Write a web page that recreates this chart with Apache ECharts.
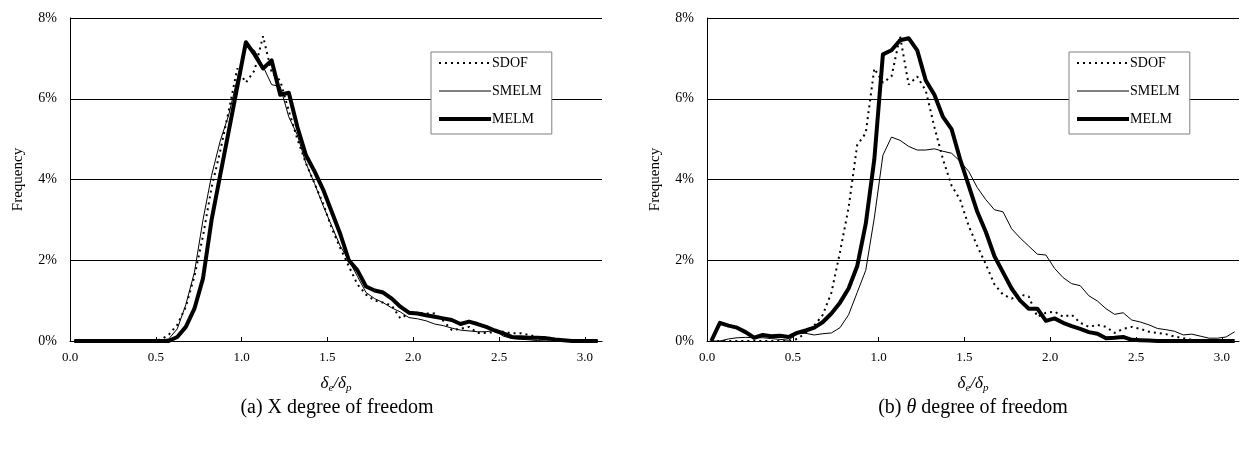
<!DOCTYPE html>
<html>
<head>
<meta charset="utf-8">
<script src="https://cdn.jsdelivr.net/npm/echarts@6/dist/echarts.min.js"></script>
<style>
html,body{margin:0;padding:0;background:#fff;}
#c{width:1242px;height:453px;}
</style>
</head>
<body>
<div id="c"></div>
<script>
// bin centres of delta_e / delta_p
const xBins = [0.025,0.075,0.125,0.175,0.225,0.275,0.325,0.375,0.425,0.475,
  0.525,0.575,0.625,0.675,0.725,0.775,0.825,0.875,0.925,0.975,
  1.025,1.075,1.125,1.175,1.225,1.275,1.325,1.375,1.425,1.475,
  1.525,1.575,1.625,1.675,1.725,1.775,1.825,1.875,1.925,1.975,
  2.025,2.075,2.125,2.175,2.225,2.275,2.325,2.375,2.425,2.475,
  2.525,2.575,2.625,2.675,2.725,2.775,2.825,2.875,2.925,2.975,
  3.025,3.075];

const xTickValues = [0, 0.5, 1.0, 1.5, 2.0, 2.5, 3.0];
const seriesNames = ['SDOF', 'SMELM', 'MELM'];

// (a) X degree of freedom  (frequency in %)
const aSdof = [0,0,0,0,0,0,0,0,0,0,
  0.03,0.15,0.4,0.85,1.6,2.6,3.8,4.7,5.7,6.75,
  6.4,6.7,7.55,6.65,6.45,5.7,5.0,4.4,3.9,3.4,
  2.8,2.3,1.85,1.4,1.15,1.0,0.95,0.88,0.56,0.68,
  0.7,0.68,0.68,0.5,0.27,0.3,0.35,0.2,0.2,0.22,
  0.23,0.19,0.19,0.15,0.1,0.1,0.05,0.02,0,0,
  0,0];
const aSmelm = [0,0,0,0,0,0,0,0,0,0,
  0.02,0.05,0.3,0.9,1.7,3.0,4.1,4.95,5.6,6.5,
  7.3,7.2,6.8,6.35,6.3,5.55,5.1,4.4,3.9,3.35,
  2.85,2.35,2.0,1.6,1.2,1.05,0.95,0.82,0.72,0.58,
  0.55,0.5,0.42,0.38,0.32,0.27,0.25,0.23,0.23,0.26,
  0.12,0.06,0.04,0.03,0.01,0,0,0,0,0,
  0,0];
const aMelm = [0,0,0,0,0,0,0,0,0,0,
  0,0,0.1,0.35,0.8,1.55,3.0,4.1,5.2,6.3,
  7.4,7.1,6.75,6.95,6.1,6.15,5.3,4.6,4.2,3.75,
  3.2,2.65,2.0,1.75,1.35,1.25,1.2,1.05,0.85,0.7,
  0.68,0.64,0.6,0.56,0.52,0.42,0.48,0.42,0.35,0.26,
  0.19,0.1,0.09,0.08,0.08,0.07,0.04,0.02,0,0,
  0,0];

// (b) theta degree of freedom
const bSdof = [0,0,0,0,0,0,0,0,0,0,
  0.05,0.2,0.38,0.65,1.2,2.2,3.3,4.85,5.15,6.75,
  6.4,6.55,7.55,6.35,6.55,6.2,5.3,4.5,3.85,3.5,
  2.85,2.35,1.9,1.4,1.15,1.05,1.15,1.1,0.6,0.7,
  0.73,0.6,0.65,0.45,0.35,0.4,0.35,0.2,0.3,0.35,
  0.3,0.23,0.2,0.17,0.11,0.07,0.03,0.02,0,0,
  0,0];
const bSmelm = [0,0,0.05,0.08,0.09,0.08,0.08,0.06,0.04,0.02,
  0.18,0.19,0.15,0.18,0.2,0.33,0.65,1.2,1.75,3.05,
  4.6,5.05,4.97,4.82,4.73,4.73,4.76,4.7,4.65,4.45,
  4.2,3.8,3.5,3.25,3.2,2.78,2.55,2.35,2.15,2.13,
  1.8,1.57,1.42,1.37,1.12,0.99,0.8,0.66,0.7,0.52,
  0.47,0.4,0.31,0.28,0.24,0.15,0.17,0.12,0.07,0.07,
  0.1,0.23];
const bMelm = [0,0.45,0.38,0.33,0.22,0.08,0.15,0.12,0.13,0.1,
  0.2,0.26,0.33,0.47,0.68,0.95,1.3,1.85,2.9,4.5,
  7.1,7.2,7.45,7.5,7.2,6.45,6.1,5.55,5.25,4.5,
  3.85,3.2,2.7,2.1,1.7,1.3,1.0,0.8,0.8,0.5,
  0.56,0.45,0.37,0.3,0.22,0.18,0.07,0.08,0.1,0.03,
  0.02,0.01,0,0,0,0,0,0,0,0,
  0,0];

const captions = ['{n|(a) X degree of freedom}', '{n|(b) }{i|θ}{n| degree of freedom}'];
const xName = '{d|δ}{s|e}{d|/δ}{s|p}';
const yName = 'Frequency';

const FONT = '"Liberation Serif", "Times New Roman", serif';
const chart = echarts.init(document.getElementById('c'), null, {renderer: 'canvas'});

const styles = {
  SDOF: {width: 2, type: [2, 4], cap: 'butt'},
  SMELM: {width: 1, type: 'solid'},
  MELM: {width: 4, type: 'solid', join: 'round'}
};

function pairs(vals) { return xBins.map((x, i) => [x, vals[i]]); }

const gridLefts = [70, 707];
const data = [[aSdof, aSmelm, aMelm], [bSdof, bSmelm, bMelm]];

const option = {
  animation: false,
  backgroundColor: '#fff',
  textStyle: {fontFamily: FONT, color: '#000'},
  grid: gridLefts.map(l => ({left: l, top: 18, width: 532, height: 323})),
  xAxis: [0, 1].map(i => ({
    type: 'value', gridIndex: i, min: 0, max: 3.1, interval: 0.5,
    axisLine: {show: true, lineStyle: {color: '#000', width: 1}},
    axisTick: {show: true, inside: true, length: 4, customValues: xTickValues, lineStyle: {color: '#000'}},
    axisLabel: {customValues: xTickValues, formatter: v => v.toFixed(1), color: '#000', fontSize: 13, fontFamily: FONT, margin: 10},
    splitLine: {show: false},
    name: xName, nameLocation: 'middle', nameGap: 33,
    nameTextStyle: {
      rich: {
        d: {fontSize: 17, fontStyle: 'italic', fontFamily: FONT, color: '#000'},
        s: {fontSize: 11, fontStyle: 'italic', fontFamily: FONT, color: '#000', padding: [9, 0, 0, 0]}
      }
    }
  })),
  yAxis: [0, 1].map(i => ({
    type: 'value', gridIndex: i, min: 0, max: 8, interval: 2,
    axisLine: {show: true, lineStyle: {color: '#000', width: 1}},
    axisTick: {show: false},
    axisLabel: {formatter: '{value}%', color: '#000', fontSize: 14, fontFamily: FONT, margin: 13},
    splitLine: {show: true, lineStyle: {color: '#000', width: 1}},
    name: yName, nameLocation: 'middle', nameGap: 44,
    nameTextStyle: {fontSize: 15, fontFamily: FONT, color: '#000'}
  })),
  legend: [431, 1069].map(l => ({
    left: l, top: 52, orient: 'vertical', data: seriesNames,
    itemWidth: 52, itemHeight: 14, itemGap: 14,
    padding: [4, 10, 8, 6],
    itemStyle: {opacity: 0},
    lineStyle: {width: 'inherit', type: 'inherit'},
    borderColor: '#808080', borderWidth: 1, backgroundColor: '#fff',
    textStyle: {fontSize: 14, color: '#000', fontFamily: FONT, padding: [0, 0, 0, -4]},
    selectedMode: false
  })),
  series: [],
  graphic: captions.map((t, i) => ({
    type: 'text', x: [337, 973][i], y: 408,
    style: {
      text: t, align: 'center', verticalAlign: 'middle', fill: '#000',
      rich: {
        n: {fontSize: 20, fontFamily: FONT, fill: '#000'},
        i: {fontSize: 20, fontFamily: FONT, fontStyle: 'italic', fill: '#000'}
      }
    }
  }))
};

[0, 1].forEach(g => {
  seriesNames.forEach((name, k) => {
    option.series.push({
      type: 'line', name: name, xAxisIndex: g, yAxisIndex: g,
      data: pairs(data[g][k]), symbol: 'none', smooth: false,
      lineStyle: Object.assign({color: '#000'}, styles[name]),
      itemStyle: {color: '#000'},
      z: 2 + k
    });
  });
});

chart.setOption(option);
</script>
</body>
</html>
